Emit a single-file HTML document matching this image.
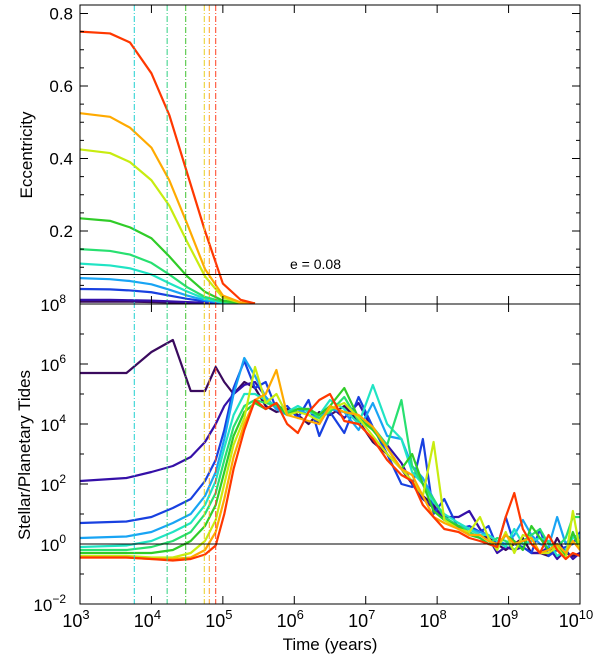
<!DOCTYPE html>
<html><head><meta charset="utf-8"><style>
html,body{margin:0;padding:0;background:#fff}
svg{display:block;font-family:"Liberation Sans",sans-serif}
</style></head><body>
<svg id="c" width="600" height="662" viewBox="0 0 600 662" xmlns="http://www.w3.org/2000/svg"></svg>
<script>
const eccTimes=[3,3.42,3.7,4.0,4.25,4.5,4.75,5.0,5.25,5.45];
const eccInit=[0.005,0.01,0.04,0.07,0.11,0.15,0.235,0.425,0.525,0.75];
const eccSeries=[
[0.005,0.005,0.005,0.004,0.003,0.002,0.001,0.0005,0,0],
[0.01,0.01,0.009,0.008,0.006,0.004,0.002,0.001,0,0],
[0.04,0.039,0.036,0.031,0.022,0.013,0.006,0.001,0,0],
[0.07,0.067,0.062,0.053,0.038,0.022,0.009,0.002,0,0],
[0.11,0.105,0.097,0.08,0.056,0.033,0.013,0.003,0,0],
[0.15,0.145,0.135,0.112,0.08,0.045,0.018,0.005,0,0],
[0.235,0.228,0.21,0.18,0.13,0.075,0.032,0.008,0.001,0],
[0.425,0.415,0.39,0.34,0.27,0.17,0.075,0.016,0.002,0],
[0.525,0.515,0.485,0.43,0.34,0.22,0.095,0.022,0.003,0],
[0.75,0.745,0.72,0.635,0.52,0.36,0.2,0.055,0.01,0]];
const colors=["#3a0a5e","#3510a8","#1840e0","#18a4f4","#20e4c4","#28e070","#30cc28","#c8ec10","#ffaa00","#ff3800"];
const tideTimes=[3,3.65,4.0,4.3,4.55,4.75,4.9,5.02,5.15,5.3,5.45,5.6,5.75,5.9,6.05,6.2,6.35,6.5,6.7,6.9,7.1,7.3,7.5,7.65,7.8,7.95,8.1,8.3,8.45,8.6,8.72,8.84,8.96,9.08,9.2,9.32,9.44,9.56,9.68,9.8,9.9,10];
const tidePurple=[5.7,5.7,6.4,6.8,5.1,5.1,5.9,5.4,5.0,5.4,5.2,4.6,4.4,4.5,4.3,4.0,4.4,4.3,4.6,4.1,3.4,3.0,2.5,2.0,1.6,1.3,0.8,0.6,0.5,0.3,0.2,0.0,-0.2,0.0,0.2,-0.3,-0.3,-0.4,0.2,-0.3,-0.4,-0.3];
const tideIndigo=[2.1,2.2,2.4,2.6,2.9,3.4,4.0,4.6,5.0,5.3,5.4,4.9,4.5,4.4,4.4,4.5,4.0,4.6,4.2,4.7,3.8,3.3,2.7,2.0,1.5,1.2,0.9,0.9,1.1,0.5,0.2,-0.3,-0.1,-0.2,-0.1,-0.3,-0.3,-0.1,-0.5,-0.2,-0.5,-0.3];
const tideBlue=[0.7,0.75,0.9,1.2,1.5,2.1,2.8,3.8,5.2,6.1,5.2,5.4,4.5,4.6,4.2,4.8,3.6,4.4,3.7,4.9,3.9,3.0,2.0,1.9,3.5,1.0,1.5,0.5,0.6,0.4,0.6,-0.1,0.9,0.0,-0.1,-0.3,0.5,-0.4,-0.2,-0.1,0.0,0.4];
const tideSky=[0.2,0.25,0.4,0.7,1.0,1.6,2.4,3.5,5.0,6.2,5.6,4.9,4.5,4.3,4.5,4.3,4.2,4.5,4.4,3.8,4.7,3.6,3.5,2.6,2.2,1.5,0.9,0.6,0.5,0.4,0.3,0.1,0.0,0.3,0.8,0.3,0.0,-0.1,0.9,0.0,0.3,0.2];
const tideCyan=[-0.1,-0.05,0.1,0.4,0.7,1.3,2.1,3.2,4.3,5.0,5.0,4.8,4.6,4.4,4.6,4.4,4.3,4.8,4.5,4.0,5.3,4.0,3.5,2.4,2.0,1.4,1.0,0.7,0.5,0.3,0.3,0.1,-0.1,0.5,0.0,0.1,0.2,0.1,-0.4,-0.2,0.2,0.3];
const tideGreenCyan=[-0.2,-0.2,-0.1,0.1,0.4,1.0,1.7,2.8,3.9,4.6,4.8,4.7,4.6,4.4,4.5,4.5,4.2,4.4,4.9,4.1,3.9,3.3,4.8,2.6,2.0,1.5,0.9,0.6,0.4,0.2,0.0,0.2,0.1,-0.2,0.1,0.3,0.5,0.0,-0.1,0.2,0.9,0.9];
const tideGreen=[-0.3,-0.3,-0.3,-0.2,0.1,0.6,1.3,2.4,3.6,4.4,4.7,4.5,4.7,4.3,4.5,4.5,4.3,4.6,5.2,4.2,3.8,3.2,2.5,3.0,2.0,1.1,0.8,0.6,0.3,0.2,0.0,-0.1,0.3,0.1,-0.2,0.6,0.2,-0.2,0.0,-0.4,0.4,-0.2];
const tideYellow=[-0.4,-0.4,-0.45,-0.45,-0.3,0.1,0.8,2.0,3.3,4.2,5.9,4.7,5.0,4.3,4.4,4.3,4.1,4.5,4.7,4.2,3.6,3.0,2.5,2.1,1.6,3.4,0.8,0.5,0.4,0.9,0.2,-0.2,0.4,-0.3,0.3,0.2,-0.3,-0.3,-0.1,-0.5,1.1,-0.2];
const tideOrange=[-0.45,-0.45,-0.5,-0.5,-0.45,-0.2,0.4,1.5,2.9,4.0,4.8,5.0,5.8,4.3,4.2,4.1,4.0,4.6,4.4,4.3,3.9,3.2,2.5,2.3,1.6,0.9,0.7,0.5,0.3,0.3,0.1,0.0,0.3,0.0,0.1,0.2,-0.3,-0.2,0.0,-0.3,0.1,-0.2];
const tideRed=[-0.45,-0.45,-0.5,-0.55,-0.5,-0.35,-0.05,1.0,2.5,3.8,4.8,4.5,4.7,4.0,3.7,4.4,4.8,5.0,4.1,4.0,3.5,2.8,2.3,2.1,1.3,0.9,0.5,0.4,0.2,0.1,0.0,-0.1,0.9,1.7,0.5,0.0,-0.3,0.3,-0.2,-0.5,-0.3,-0.4];
const tideNames=["purple","indigo","blue","sky","cyan","green-cyan","green","yellow","orange","red"];
const tideSeries=[tidePurple,tideIndigo,tideBlue,tideSky,tideCyan,tideGreenCyan,tideGreen,tideYellow,tideOrange,tideRed];
const circTimes=[3.76,4.22,4.48,4.74,4.81,4.90];
const circColors=["#20d0d0","#30d080","#40c030","#e8d020","#ffa020","#ff4020"];
const xTicks=[3,4,5,6,7,8,9,10];
const eTicks=[0.2,0.4,0.6,0.8];
const tTicks=[-2,0,2,4,6,8];

const L=80,R=580,T1=5,B1=304,B2=604;
const X=lt=>L+(lt-3)*(R-L)/7;
const YE=e=>303.5-362.5*e;
const YT=v=>544-30*v;
const NS="http://www.w3.org/2000/svg";
const svg=document.getElementById('c');
function mk(tag,attrs,parent){const el=document.createElementNS(NS,tag);for(const k in attrs)el.setAttribute(k,attrs[k]);(parent||svg).appendChild(el);return el;}

const defs=mk('defs',{});
const cp1=mk('clipPath',{id:'cp1'},defs);mk('rect',{x:L,y:T1,width:R-L,height:B1-T1},cp1);
const cp2=mk('clipPath',{id:'cp2'},defs);mk('rect',{x:L,y:B1,width:R-L,height:B2-B1},cp2);

const g1=mk('g',{'clip-path':'url(#cp1)'});


const g2=mk('g',{'clip-path':'url(#cp2)'});



circTimes.forEach((t,i)=>{
  const l=mk('line',{x1:X(t),x2:X(t),y1:T1,y2:B2,stroke:circColors[i],'stroke-width':1,'stroke-dasharray':'6,2,1,2'});
  
  
});

const th=mk('line',{x1:L,x2:R,y1:YE(0.08),y2:YE(0.08),stroke:'#000','stroke-width':1});


const tt=mk('text',{x:290,y:269,'font-size':14,fill:'#000'});tt.textContent='e = 0.08';


const ul=mk('line',{x1:L,x2:R,y1:YT(0),y2:YT(0),stroke:'#000','stroke-width':1});



eccSeries.forEach((s,i)=>{
  const p=mk('polyline',{points:s.map((v,j)=>X(eccTimes[j])+','+YE(v)).join(' '),fill:'none',stroke:colors[i],'stroke-width':2.2,'stroke-linejoin':'round'},g1);
  
  
});
tideSeries.forEach((s,i)=>{
  const p=mk('polyline',{points:s.map((v,j)=>X(tideTimes[j])+','+YT(v)).join(' '),fill:'none',stroke:colors[i],'stroke-width':2.2,'stroke-linejoin':'round'},g2);
  
  
});

const f=mk('rect',{x:L,y:T1,width:R-L,height:B2-T1,fill:'none',stroke:'#000','stroke-width':1});


const dv=mk('line',{x1:L,x2:R,y1:B1,y2:B1,stroke:'#000','stroke-width':1});



xTicks.forEach(t=>{
  const x=X(t);
  [[T1,T1+8],[B1-8,B1+8],[B2-8,B2]].forEach(([a,b])=>mk('line',{x1:x,x2:x,y1:a,y2:b,stroke:'#000','stroke-width':1}));
  const tx=mk('text',{x:x-4,y:627,'font-size':18,'text-anchor':'middle',fill:'#000'});
  tx.innerHTML='10<tspan dy="-8" font-size="13">'+t+'</tspan>';
  
  
});
for(let k=1;k<=16;k++){const e=k*0.05,y=YE(e);if(y<T1)continue;const len=(k%4==0)?8:4;
  mk('line',{x1:L,x2:L+len,y1:y,y2:y,stroke:'#000'});mk('line',{x1:R-len,x2:R,y1:y,y2:y,stroke:'#000'});}
eTicks.forEach(e=>{
  const tx=mk('text',{x:73,y:YE(e)+6,'font-size':17,'text-anchor':'end',fill:'#000'});tx.textContent=e.toFixed(1);
  
  
});
for(let v=-2;v<=8;v++){const y=YT(v),len=(v%2==0)?8:4;
  mk('line',{x1:L,x2:L+len,y1:y,y2:y,stroke:'#000'});mk('line',{x1:R-len,x2:R,y1:y,y2:y,stroke:'#000'});}
tTicks.forEach(v=>{
  const tx=mk('text',{x:66,y:YT(v)+7,'font-size':17,'text-anchor':'end',fill:'#000'});
  tx.innerHTML='10<tspan dy="-8" font-size="12">'+(v<0?'\u2212'+(-v):v)+'</tspan>';
  
  
});
const xt=mk('text',{x:330,y:650,'font-size':17,'text-anchor':'middle',fill:'#000'});xt.textContent='Time (years)';


const yt1=mk('text',{x:0,y:0,'font-size':17,'text-anchor':'middle',fill:'#000',transform:'translate(32,155) rotate(-90)'});yt1.textContent='Eccentricity';


const yt2=mk('text',{x:0,y:0,'font-size':17,'text-anchor':'middle',fill:'#000',transform:'translate(30,455) rotate(-90)'});yt2.textContent='Stellar/Planetary  Tides';


</script>
</body></html>
